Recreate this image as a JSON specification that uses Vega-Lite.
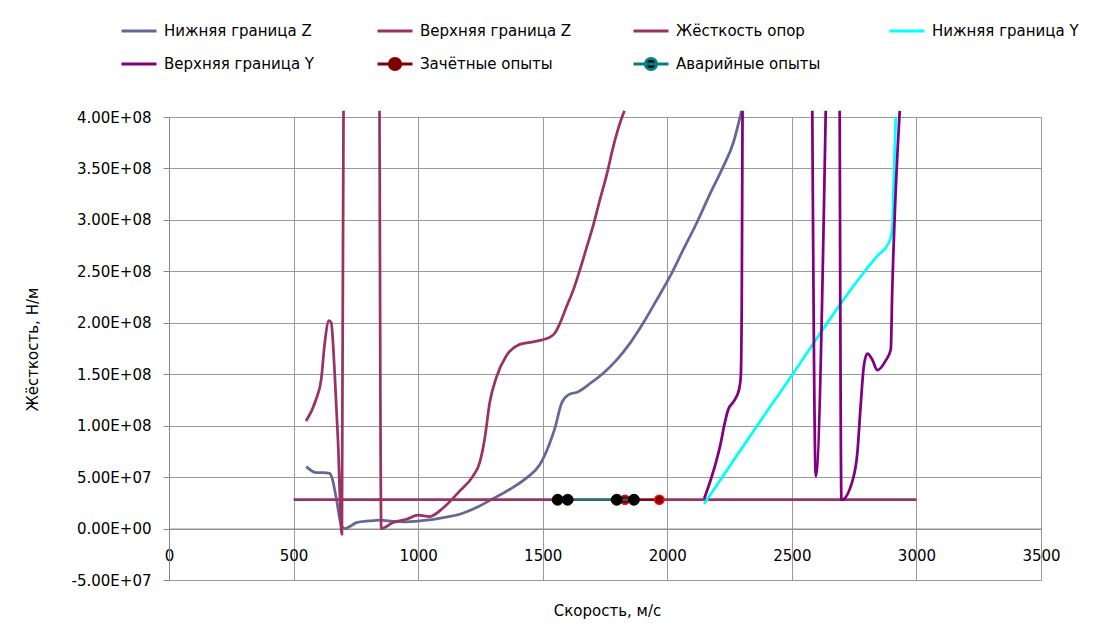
{
  "$schema": "https://vega.github.io/schema/vega-lite/v6.json",
  "width": 872,
  "height": 463,
  "autosize": {"type": "none"},
  "padding": {"left": 169, "top": 117, "right": 72, "bottom": 48},
  "background": "white",
  "config": {
    "view": {"stroke": null},
    "font": "DejaVu Sans",
    "axis": {"labelColor": "#000000", "titleColor": "#000000", "labelFontSize": 15, "titleFontSize": 15, "titleFontWeight": "normal", "gridColor": "#9a9a9a", "gridWidth": 1, "domainColor": "#888888", "tickColor": "#888888"},
    "legend": {"labelColor": "#000000"}
  },
  "datasets": {
    "main": [
      {"series": "Нижняя граница Z", "seg": "a", "speed": 551, "k": 60200000},
      {"series": "Нижняя граница Z", "seg": "a", "speed": 591, "k": 54400000},
      {"series": "Нижняя граница Z", "seg": "a", "speed": 618, "k": 54400000},
      {"series": "Нижняя граница Z", "seg": "a", "speed": 645, "k": 53700000},
      {"series": "Нижняя граница Z", "seg": "a", "speed": 656, "k": 47900000},
      {"series": "Нижняя граница Z", "seg": "a", "speed": 672, "k": 28500000},
      {"series": "Нижняя граница Z", "seg": "a", "speed": 692, "k": 2600000},
      {"series": "Нижняя граница Z", "seg": "a", "speed": 705, "k": 0},
      {"series": "Нижняя граница Z", "seg": "a", "speed": 725, "k": 1900000},
      {"series": "Нижняя граница Z", "seg": "a", "speed": 752, "k": 5800000},
      {"series": "Нижняя граница Z", "seg": "a", "speed": 805, "k": 7400000},
      {"series": "Нижняя граница Z", "seg": "a", "speed": 846, "k": 8100000},
      {"series": "Нижняя граница Z", "seg": "a", "speed": 899, "k": 7100000},
      {"series": "Нижняя граница Z", "seg": "a", "speed": 953, "k": 6500000},
      {"series": "Нижняя граница Z", "seg": "a", "speed": 1033, "k": 8100000},
      {"series": "Нижняя граница Z", "seg": "a", "speed": 1100, "k": 10700000},
      {"series": "Нижняя граница Z", "seg": "a", "speed": 1167, "k": 13900000},
      {"series": "Нижняя граница Z", "seg": "a", "speed": 1234, "k": 20400000},
      {"series": "Нижняя граница Z", "seg": "a", "speed": 1300, "k": 29000000},
      {"series": "Нижняя граница Z", "seg": "a", "speed": 1367, "k": 38000000},
      {"series": "Нижняя граница Z", "seg": "a", "speed": 1434, "k": 49000000},
      {"series": "Нижняя граница Z", "seg": "a", "speed": 1488, "k": 62000000},
      {"series": "Нижняя граница Z", "seg": "a", "speed": 1528, "k": 83000000},
      {"series": "Нижняя граница Z", "seg": "a", "speed": 1549, "k": 97700000},
      {"series": "Нижняя граница Z", "seg": "a", "speed": 1576, "k": 122000000},
      {"series": "Нижняя граница Z", "seg": "a", "speed": 1603, "k": 130000000},
      {"series": "Нижняя граница Z", "seg": "a", "speed": 1643, "k": 133000000},
      {"series": "Нижняя граница Z", "seg": "a", "speed": 1690, "k": 141000000},
      {"series": "Нижняя граница Z", "seg": "a", "speed": 1743, "k": 151000000},
      {"series": "Нижняя граница Z", "seg": "a", "speed": 1797, "k": 164000000},
      {"series": "Нижняя граница Z", "seg": "a", "speed": 1850, "k": 180000000},
      {"series": "Нижняя граница Z", "seg": "a", "speed": 1904, "k": 200000000},
      {"series": "Нижняя граница Z", "seg": "a", "speed": 1957, "k": 222000000},
      {"series": "Нижняя граница Z", "seg": "a", "speed": 2011, "k": 245000000},
      {"series": "Нижняя граница Z", "seg": "a", "speed": 2064, "k": 271000000},
      {"series": "Нижняя граница Z", "seg": "a", "speed": 2118, "k": 297000000},
      {"series": "Нижняя граница Z", "seg": "a", "speed": 2171, "k": 325000000},
      {"series": "Нижняя граница Z", "seg": "a", "speed": 2225, "k": 352000000},
      {"series": "Нижняя граница Z", "seg": "a", "speed": 2265, "k": 375000000},
      {"series": "Нижняя граница Z", "seg": "a", "speed": 2298, "k": 406000000},

      {"series": "Верхняя граница Z", "seg": "a", "speed": 550, "k": 104500000},
      {"series": "Верхняя граница Z", "seg": "a", "speed": 591, "k": 126000000},
      {"series": "Верхняя граница Z", "seg": "a", "speed": 611, "k": 145000000},
      {"series": "Верхняя граница Z", "seg": "a", "speed": 625, "k": 180000000},
      {"series": "Верхняя граница Z", "seg": "a", "speed": 642, "k": 202000000},
      {"series": "Верхняя граница Z", "seg": "a", "speed": 651, "k": 200000000},
      {"series": "Верхняя граница Z", "seg": "a", "speed": 665, "k": 151000000},
      {"series": "Верхняя граница Z", "seg": "a", "speed": 678, "k": 87000000},
      {"series": "Верхняя граница Z", "seg": "a", "speed": 694, "k": -5500000},
      {"series": "Верхняя граница Z", "seg": "a", "speed": 700.5, "k": 406000000},
      {"series": "Верхняя граница Z", "seg": "b", "speed": 845, "k": 406000000},
      {"series": "Верхняя граница Z", "seg": "b", "speed": 852, "k": 0},
      {"series": "Верхняя граница Z", "seg": "b", "speed": 899, "k": 5800000},
      {"series": "Верхняя граница Z", "seg": "b", "speed": 953, "k": 9000000},
      {"series": "Верхняя граница Z", "seg": "b", "speed": 1000, "k": 13000000},
      {"series": "Верхняя граница Z", "seg": "b", "speed": 1046, "k": 11700000},
      {"series": "Верхняя граница Z", "seg": "b", "speed": 1100, "k": 20000000},
      {"series": "Верхняя граница Z", "seg": "b", "speed": 1167, "k": 36600000},
      {"series": "Верхняя граница Z", "seg": "b", "speed": 1220, "k": 51000000},
      {"series": "Верхняя граница Z", "seg": "b", "speed": 1247, "k": 64000000},
      {"series": "Верхняя граница Z", "seg": "b", "speed": 1267, "k": 87000000},
      {"series": "Верхняя граница Z", "seg": "b", "speed": 1287, "k": 122000000},
      {"series": "Верхняя граница Z", "seg": "b", "speed": 1314, "k": 147000000},
      {"series": "Верхняя граница Z", "seg": "b", "speed": 1354, "k": 168000000},
      {"series": "Верхняя граница Z", "seg": "b", "speed": 1408, "k": 179000000},
      {"series": "Верхняя граница Z", "seg": "b", "speed": 1449, "k": 181000000},
      {"series": "Верхняя граница Z", "seg": "b", "speed": 1500, "k": 183500000},
      {"series": "Верхняя граница Z", "seg": "b", "speed": 1529, "k": 186000000},
      {"series": "Верхняя граница Z", "seg": "b", "speed": 1549, "k": 190000000},
      {"series": "Верхняя граница Z", "seg": "b", "speed": 1570, "k": 200000000},
      {"series": "Верхняя граница Z", "seg": "b", "speed": 1596, "k": 216000000},
      {"series": "Верхняя граница Z", "seg": "b", "speed": 1623, "k": 232000000},
      {"series": "Верхняя граница Z", "seg": "b", "speed": 1650, "k": 252000000},
      {"series": "Верхняя граница Z", "seg": "b", "speed": 1676, "k": 273000000},
      {"series": "Верхняя граница Z", "seg": "b", "speed": 1703, "k": 295000000},
      {"series": "Верхняя граница Z", "seg": "b", "speed": 1730, "k": 320000000},
      {"series": "Верхняя граница Z", "seg": "b", "speed": 1757, "k": 344000000},
      {"series": "Верхняя граница Z", "seg": "b", "speed": 1783, "k": 371000000},
      {"series": "Верхняя граница Z", "seg": "b", "speed": 1810, "k": 394000000},
      {"series": "Верхняя граница Z", "seg": "b", "speed": 1828, "k": 406000000},

      {"series": "Жёсткость опор", "seg": "a", "speed": 500, "k": 28000000},
      {"series": "Жёсткость опор", "seg": "a", "speed": 3000, "k": 28000000},

      {"series": "Нижняя граница Y", "seg": "a", "speed": 2148, "k": 24000000},
      {"series": "Нижняя граница Y", "seg": "a", "speed": 2449, "k": 131000000},
      {"series": "Нижняя граница Y", "seg": "a", "speed": 2843, "k": 265000000},
      {"series": "Нижняя граница Y", "seg": "a", "speed": 2890, "k": 278000000},
      {"series": "Нижняя граница Y", "seg": "a", "speed": 2903, "k": 291000000},
      {"series": "Нижняя граница Y", "seg": "a", "speed": 2910, "k": 346000000},
      {"series": "Нижняя граница Y", "seg": "a", "speed": 2917, "k": 400000000},

      {"series": "Верхняя граница Y", "seg": "a", "speed": 2148, "k": 29000000},
      {"series": "Верхняя граница Y", "seg": "a", "speed": 2175, "k": 47900000},
      {"series": "Верхняя граница Y", "seg": "a", "speed": 2195, "k": 64000000},
      {"series": "Верхняя граница Y", "seg": "a", "speed": 2215, "k": 83500000},
      {"series": "Верхняя граница Y", "seg": "a", "speed": 2228, "k": 99600000},
      {"series": "Верхняя граница Y", "seg": "a", "speed": 2245, "k": 116000000},
      {"series": "Верхняя граница Y", "seg": "a", "speed": 2268, "k": 124000000},
      {"series": "Верхняя граница Y", "seg": "a", "speed": 2288, "k": 135000000},
      {"series": "Верхняя граница Y", "seg": "a", "speed": 2295, "k": 148000000},
      {"series": "Верхняя граница Y", "seg": "a", "speed": 2299, "k": 223000000},
      {"series": "Верхняя граница Y", "seg": "a", "speed": 2302, "k": 406000000},
      {"series": "Верхняя граница Y", "seg": "b", "speed": 2582, "k": 406000000},
      {"series": "Верхняя граница Y", "seg": "b", "speed": 2596, "k": 51000000},
      {"series": "Верхняя граница Y", "seg": "b", "speed": 2636, "k": 406000000},
      {"series": "Верхняя граница Y", "seg": "c", "speed": 2692, "k": 406000000},
      {"series": "Верхняя граница Y", "seg": "c", "speed": 2699, "k": 27800000},
      {"series": "Верхняя граница Y", "seg": "c", "speed": 2743, "k": 46200000},
      {"series": "Верхняя граница Y", "seg": "c", "speed": 2763, "k": 73800000},
      {"series": "Верхняя граница Y", "seg": "c", "speed": 2776, "k": 119000000},
      {"series": "Верхняя граница Y", "seg": "c", "speed": 2789, "k": 158000000},
      {"series": "Верхняя граница Y", "seg": "c", "speed": 2803, "k": 170000000},
      {"series": "Верхняя граница Y", "seg": "c", "speed": 2823, "k": 164000000},
      {"series": "Верхняя граница Y", "seg": "c", "speed": 2843, "k": 154000000},
      {"series": "Верхняя граница Y", "seg": "c", "speed": 2876, "k": 163000000},
      {"series": "Верхняя граница Y", "seg": "c", "speed": 2897, "k": 174000000},
      {"series": "Верхняя граница Y", "seg": "c", "speed": 2903, "k": 232000000},
      {"series": "Верхняя граница Y", "seg": "c", "speed": 2917, "k": 329000000},
      {"series": "Верхняя граница Y", "seg": "c", "speed": 2933, "k": 406000000}
    ],
    "passed": [
      {"series": "Зачётные опыты", "speed": 1830, "k": 28000000},
      {"series": "Зачётные опыты", "speed": 1968, "k": 28000000}
    ],
    "crash": [
      {"series": "Аварийные опыты", "speed": 1560, "k": 28000000},
      {"series": "Аварийные опыты", "speed": 1600, "k": 28000000},
      {"series": "Аварийные опыты", "speed": 1797, "k": 28000000},
      {"series": "Аварийные опыты", "speed": 1866, "k": 28000000}
    ]
  },
  "encoding": {
    "x": {
      "field": "speed", "type": "quantitative",
      "scale": {"domain": [0, 3500], "nice": false, "zero": false},
      "axis": {
        "values": [0, 500, 1000, 1500, 2000, 2500, 3000, 3500],
        "format": "d", "offset": -51.44, "grid": true, "ticks": false, "tickSize": 0,
        "labelPadding": 20, "labelFlush": false, "labelOverlap": false,
        "title": "Скорость, м/с", "titleX": 438, "titleY": 82, "titleBaseline": "middle"
      }
    },
    "y": {
      "field": "k", "type": "quantitative",
      "scale": {"domain": [-50000000, 400000000], "nice": false, "zero": false},
      "axis": {
        "values": [-50000000, 0, 50000000, 100000000, 150000000, 200000000, 250000000, 300000000, 350000000, 400000000],
        "labelExpr": "datum.value == 0 ? '0.00E+00' : ((datum.value < 0 ? '-' : '') + format(abs(datum.value) / pow(10, floor(log(abs(datum.value)) / LN10 + 0.000000001)), '.2f') + 'E' + (floor(log(abs(datum.value)) / LN10 + 0.000000001) < 0 ? '-' : '+') + (abs(floor(log(abs(datum.value)) / LN10 + 0.000000001)) < 10 ? '0' : '') + abs(floor(log(abs(datum.value)) / LN10 + 0.000000001)))",
        "grid": true, "tickSize": 6, "labelPadding": 12, "labelFlush": false, "labelOverlap": false,
        "title": "Жёсткость, Н/м", "titleAngle": -90, "titleX": -137, "titleY": 232, "titleBaseline": "middle", "titleAlign": "center"
      }
    }
  },
  "layer": [
    {
      "data": {"name": "main"},
      "mark": {"type": "line", "strokeWidth": 2.75, "clip": false, "interpolate": "monotone"},
      "encoding": {
        "color": {
          "field": "series", "type": "nominal",
          "scale": {
            "domain": ["Нижняя граница Z", "Верхняя граница Z", "Жёсткость опор", "Нижняя граница Y", "Верхняя граница Y", "Зачётные опыты", "Аварийные опыты"],
            "range": ["#666699", "#993366", "#993366", "#00FFFF", "#800080", "#800000", "#008080"]
          },
          "legend": {
            "orient": "none", "legendX": -49, "legendY": -107,
            "direction": "horizontal", "columns": 4, "gridAlign": "all",
            "columnPadding": 55, "rowPadding": 4, "padding": 0,
            "symbolType": "stroke", "symbolSize": 1225, "symbolStrokeWidth": 3,
            "labelFontSize": 15, "labelOffset": 6, "labelLimit": 400, "title": null,
            "encode": {
              "symbols": {
                "update": {
                  "shape": {"signal": "datum.value == 'Зачётные опыты' || datum.value == 'Аварийные опыты' ? 'M-1,0H1M-0.32,0A0.32,0.32,0,1,0,0.32,0A0.32,0.32,0,1,0,-0.32,0Z' : 'stroke'"},
                  "fill": {"signal": "datum.value == 'Зачётные опыты' ? '#800000' : datum.value == 'Аварийные опыты' ? '#000000' : 'transparent'"}
                }
              }
            }
          }
        },
        "detail": {"field": "seg", "type": "nominal"}
      }
    },
    {
      "data": {"name": "passed"},
      "mark": {"type": "line", "strokeWidth": 2},
      "encoding": {"color": {"field": "series", "type": "nominal"}}
    },
    {
      "data": {"name": "passed"},
      "mark": {"type": "point", "filled": true, "shape": "circle", "size": 85, "fill": "#800000", "stroke": "#ff0000", "strokeWidth": 1.5, "opacity": 1}
    },
    {
      "data": {"name": "crash"},
      "mark": {"type": "line", "strokeWidth": 2},
      "encoding": {"color": {"field": "series", "type": "nominal"}}
    },
    {
      "data": {"name": "crash"},
      "mark": {"type": "point", "filled": true, "shape": "circle", "size": 120, "fill": "#000000", "stroke": "#000000", "strokeWidth": 1, "opacity": 1}
    }
  ]
}
